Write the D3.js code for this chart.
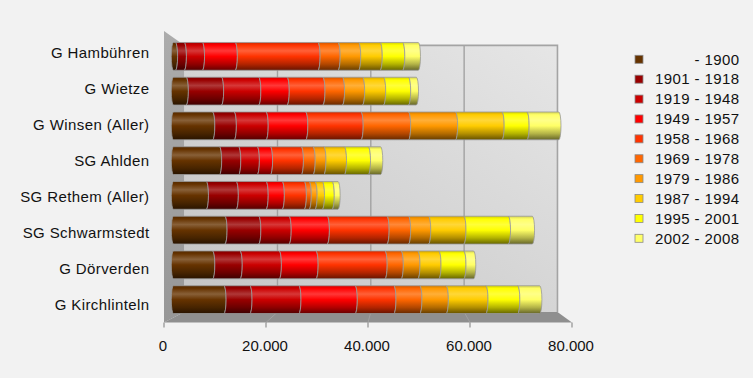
<!DOCTYPE html>
<html>
<head>
<meta charset="utf-8">
<script src="https://cdn.jsdelivr.net/npm/d3@7"></script>
<style>
  html, body { margin: 0; padding: 0; background: #f2f2f2; }
  svg { display: block; }
  text { font-family: "Liberation Sans", Arial, Helvetica, sans-serif; fill: #111; }
</style>
</head>
<body>
<svg id="chart" width="753" height="378"></svg>
<script>
// Municipalities (top to bottom)
const categories = [
  "G Hambühren", "G Wietze", "G Winsen (Aller)", "SG Ahlden",
  "SG Rethem (Aller)", "SG Schwarmstedt", "G Dörverden", "G Kirchlinteln"
];

// Construction periods (stack order, left to right)
const periods = [
  "- 1900", "1901 - 1918", "1919 - 1948", "1949 - 1957", "1958 - 1968",
  "1969 - 1978", "1979 - 1986", "1987 - 1994", "1995 - 2001", "2002 - 2008"
];
const colors = [
  "#663300", "#990000", "#cc0000", "#ff0000", "#ff3300",
  "#ff6600", "#ff9900", "#ffcc00", "#ffff00", "#ffff66"
];

// Values per municipality, one entry per period
const hambuehren   = [400, 1800, 3700, 6700, 16900, 4100, 4200, 4400, 4600, 3200];
const wietze       = [2600, 7200, 7600, 5800, 7300, 4000, 4100, 4300, 5100, 1600];
const winsen       = [8000, 4400, 6500, 8100, 11300, 9700, 9600, 9500, 5100, 6500];
const ahlden       = [9400, 3900, 3800, 2700, 6300, 2400, 2200, 4200, 4900, 2500];
const rethem       = [6700, 6100, 6100, 3300, 4500, 1000, 1200, 1500, 2000, 1200];
const schwarmstedt = [10500, 6900, 6200, 7800, 12200, 4400, 4100, 7200, 9100, 4900];
const doerverden   = [8000, 5600, 8000, 7500, 14100, 3300, 3400, 4300, 5100, 2000];
const kirchlinteln = [10300, 5300, 10000, 11500, 7900, 5300, 5400, 8100, 6500, 4500];
const rows = [hambuehren, wietze, winsen, ahlden, rethem, schwarmstedt, doerverden, kirchlinteln];

// Value axis
const tickValues = [0, 20000, 40000, 60000, 80000];
const tickLabels = ["0", "20.000", "40.000", "60.000", "80.000"];

const svg = d3.select("#chart");
const defs = svg.append("defs");

// ---- perspective box: front plane, back wall, bar depth ----
const vp = { x: 401, y: 200 };           // vanishing point
const front = { top: 31, bottom: 322.5 };
const depthBack = 0.915, depthBar = 0.96;
const xFront = d3.scaleLinear().domain([0, 80000]).range([164, 572]);
const px = (x, s) => vp.x + s * (x - vp.x);
const py = (y, s) => vp.y + s * (y - vp.y);
const xBack = v => px(xFront(v), depthBack);
const xBar = v => px(xFront(v), depthBar);
const backTop = py(front.top, depthBack), backBottom = py(front.bottom, depthBack);

// Gradients for walls
const gBack = defs.append("linearGradient").attr("id", "gBack")
  .attr("x1", 1).attr("y1", 0).attr("x2", 0).attr("y2", 1);
gBack.append("stop").attr("offset", 0).attr("stop-color", "#e6e6e6");
gBack.append("stop").attr("offset", 1).attr("stop-color", "#c4c4c4");
const gSide = defs.append("linearGradient").attr("id", "gSide")
  .attr("x1", 0).attr("y1", 0).attr("x2", 0).attr("y2", 1);
gSide.append("stop").attr("offset", 0).attr("stop-color", "#acacac");
gSide.append("stop").attr("offset", 1).attr("stop-color", "#979797");

const line = d3.line();

// Back wall
svg.append("path")
  .attr("d", line([[xBack(0), backTop], [xBack(80000), backTop], [xBack(80000), backBottom], [xBack(0), backBottom]]) + "Z")
  .attr("fill", "url(#gBack)");

// Back wall gridlines
svg.append("g").selectAll("line").data(tickValues.slice(1, -1)).join("line")
  .attr("x1", d => xBack(d)).attr("x2", d => xBack(d))
  .attr("y1", backTop).attr("y2", backBottom)
  .attr("stroke", "#a2a2a2").attr("stroke-width", 1.4);

// Back wall border (top + right)
svg.append("path")
  .attr("d", line([[xBack(0), backTop], [xBack(80000), backTop], [xBack(80000), backBottom]]))
  .attr("fill", "none").attr("stroke", "#a4a4a4").attr("stroke-width", 1.6);

// Left side wall
svg.append("path")
  .attr("d", line([[xFront(0), front.top], [xBack(0), backTop], [xBack(0), backBottom], [xFront(0), front.bottom]]) + "Z")
  .attr("fill", "url(#gSide)");

// Floor
svg.append("path")
  .attr("d", line([[xFront(0), front.bottom], [xFront(80000), front.bottom], [xBack(80000), backBottom], [xBack(0), backBottom]]) + "Z")
  .attr("fill", "#8f8f8f");

// Floor gridlines
svg.append("g").selectAll("line").data(tickValues.slice(1, -1)).join("line")
  .attr("x1", d => xFront(d)).attr("x2", d => xBack(d))
  .attr("y1", front.bottom).attr("y2", backBottom)
  .attr("stroke", "#a0a0a0").attr("stroke-width", 1);

// Tick marks on the front edge
svg.append("g").selectAll("line").data(tickValues).join("line")
  .attr("x1", d => xFront(d)).attr("x2", d => xFront(d))
  .attr("y1", front.bottom).attr("y2", front.bottom + 5)
  .attr("stroke", "#8f8f8f").attr("stroke-width", 1.2);

// Tick labels
svg.append("g").selectAll("text").data(tickValues).join("text")
  .attr("x", d => xFront(d) - 1).attr("y", 346).attr("dy", "0.35em")
  .attr("text-anchor", "middle").attr("font-size", 15)
  .text((d, i) => tickLabels[i]);

// ---- cylinder bars ----
const yBar = d3.scaleBand().domain(categories).range([39, 317])
  .paddingInner(0.2).paddingOuter(0.1);

// Cylinder shading per colour
colors.forEach((c, i) => {
  const g = defs.append("linearGradient").attr("id", "cyl" + i)
    .attr("x1", 0).attr("y1", 0).attr("x2", 0).attr("y2", 1);
  const dark = t => d3.interpolateRgb(c, "#000")(t);
  const light = t => d3.interpolateRgb(c, "#fff")(t);
  [[0, dark(0.18)], [0.1, c], [0.3, light(0.22)], [0.5, c],
   [0.78, dark(0.3)], [1, dark(0.6)]].forEach(([o, col]) =>
    g.append("stop").attr("offset", o).attr("stop-color", col));
});

const stack = d3.stack().keys(d3.range(periods.length)).value((row, k) => row[k]);
const series = stack(rows);
const rx = 2.2;

function segPath(x0, x1, yt, yb, first) {
  const ry = (yb - yt) / 2;
  const p = d3.path();
  p.moveTo(x0, yt);
  p.lineTo(x1, yt);
  // right boundary bulges to the right
  const right = `A${rx},${ry} 0 0 1 ${x1},${yb}`;
  const left = first
    ? `A${rx},${ry} 0 0 1 ${x0},${yt}`
    : `A${rx},${ry} 0 0 0 ${x0},${yt}`;
  return `M${x0},${yt}L${x1},${yt}${right}L${x0},${yb}${left}Z`;
}

const gBars = svg.append("g");
series.forEach((s, k) => {
  gBars.append("g").selectAll("path").data(s).join("path")
    .attr("d", (d, i) => segPath(xBar(d[0]), xBar(d[1]),
      yBar(categories[i]), yBar(categories[i]) + yBar.bandwidth(), k === 0))
    .attr("fill", `url(#cyl${k})`)
    .attr("stroke", "#999")
    .attr("stroke-width", 0.8);
});

// Category labels
const yLabel = d3.scaleBand().domain(categories).range([35, 323]);
svg.append("g").selectAll("text").data(categories).join("text")
  .attr("x", 149.5).attr("y", d => yLabel(d) + yLabel.bandwidth() / 2)
  .attr("dy", "0.35em").attr("text-anchor", "end")
  .attr("font-size", 15).attr("letter-spacing", 0.4)
  .text(d => d);

// ---- legend ----
const yLegend = d3.scaleLinear().domain([0, 9]).range([59.3, 238.3]);
const legend = svg.append("g");
legend.selectAll("rect").data(periods).join("rect")
  .attr("x", 635).attr("y", (d, i) => yLegend(i) - 4)
  .attr("width", 8).attr("height", 8)
  .attr("fill", (d, i) => colors[i])
  .attr("stroke", "#8a8a8a").attr("stroke-width", 0.8);
legend.selectAll("text").data(periods).join("text")
  .attr("x", 739.5).attr("y", (d, i) => yLegend(i))
  .attr("dy", "0.35em").attr("text-anchor", "end")
  .attr("font-size", 15).attr("letter-spacing", 0.4)
  .text(d => d);
</script>
</body>
</html>
